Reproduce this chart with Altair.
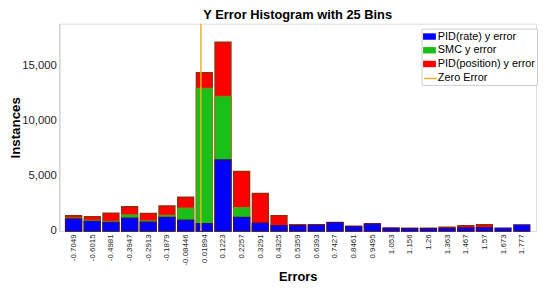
import altair as alt
import pandas as pd

centers = [-0.7049, -0.6015, -0.4981, -0.3947, -0.2913, -0.1879, -0.08446, 0.01894,
           0.1223, 0.2257, 0.3291, 0.4325, 0.5359, 0.6393, 0.7427, 0.8461, 0.9495,
           1.053, 1.156, 1.26, 1.363, 1.467, 1.57, 1.673, 1.777]
pid_rate = [1080, 870, 780, 1160, 790, 1220, 980, 650, 6430, 1220, 690, 480, 470,
            510, 750, 380, 600, 220, 200, 200, 220, 270, 300, 240, 535]
smc = [1150, 950, 850, 1450, 900, 1400, 2050, 12890, 12170, 2110, 500, 300, 0,
       0, 0, 0, 0, 0, 0, 0, 0, 0, 0, 0, 0]
pid_pos = [1370, 1280, 1610, 2200, 1580, 2260, 3050, 14310, 17080, 5390, 3390, 1370,
           560, 560, 780, 420, 650, 270, 240, 240, 330, 475, 560, 0, 0]

series_names = ["PID(rate) y error", "SMC y error", "PID(position) y error", "Zero Error"]
fill_colors = ["#0000FF", "#19C019", "#FF0000", "transparent"]
edge_colors = {"PID(rate) y error": "#2B0A8C", "SMC y error": "#5C9A10",
               "PID(position) y error": "#9A2A08"}

rows = []
for name, vals in [(series_names[2], pid_pos), (series_names[1], smc), (series_names[0], pid_rate)]:
    for c, v in zip(centers, vals):
        rows.append({"center": c, "count": v, "series": name})
df = pd.DataFrame(rows)

FONT = "Liberation Sans"
x_domain = [-0.7566, 1.8286]

x_axis = alt.Axis(values=centers, labelAngle=270, labelFontSize=8,
                  labelFont=FONT, labelColor="#262626", labelPadding=3,
                  labelExpr="replace(format(datum.value, '.4~g'), '\u2212', '-')",
                  ticks=False, domain=False, grid=False, labelOverlap=False,
                  labelBound=False, labelFlush=False,
                  title="Errors", titleFont=FONT, titleFontSize=13,
                  titleFontWeight="bold", titleColor="black", titlePadding=6)
y_axis = alt.Axis(values=[0, 5000, 10000, 15000], grid=False,
                  labelExpr="format(datum.value, ',')",
                  ticks=False, domainColor="#C8C8C8", labelFont=FONT,
                  labelFontSize=11.5, labelColor="#262626", labelPadding=3,
                  title="Instances", titleFont=FONT, titleFontSize=13.5,
                  titleFontWeight="bold", titleColor="black", titleX=-37)
x_scale = alt.Scale(domain=x_domain, nice=False, zero=False)
y_scale = alt.Scale(domain=[0, 18750], nice=False)

fill_enc = alt.Fill("series:N",
                    scale=alt.Scale(domain=series_names, range=fill_colors),
                    legend=alt.Legend(title=None, orient="none", legendX=367, legendY=5,
                                      symbolType="M-1,-0.5H1V0.5H-1Z", symbolSize=169,
                                      symbolStrokeWidth=0, labelFont=FONT, labelFontSize=11,
                                      labelColor="black", labelOffset=2, labelLimit=300,
                                      padding=1.5, rowPadding=1.9, strokeColor="#CCCCCC",
                                      fillColor="white"))

layers = []
for name in [series_names[2], series_names[1], series_names[0]]:
    layers.append(
        alt.Chart(df).transform_filter(alt.datum.series == name)
        .mark_bar(size=16, stroke=edge_colors[name], strokeWidth=1.5)
        .encode(x=alt.X("center:Q", scale=x_scale, axis=x_axis),
                y=alt.Y("count:Q", stack=None, scale=y_scale, axis=y_axis),
                fill=fill_enc)
    )

zero_df = pd.DataFrame({"x": [0.0], "name": ["Zero Error"]})
rule = alt.Chart(zero_df).mark_rule(strokeWidth=1.5).encode(
    x=alt.X("x:Q", scale=x_scale, axis=x_axis),
    stroke=alt.Stroke("name:N", scale=alt.Scale(domain=["Zero Error"], range=["#EDB120"]),
                      legend=alt.Legend(title=None, orient="none", legendX=367, legendY=46.5,
                                        symbolType="stroke", symbolSize=169,
                                        symbolStrokeWidth=1.5, labelFont=FONT,
                                        labelFontSize=11, labelOffset=0,
                                        labelExpr="''", padding=1.5, zindex=2))
)

chart = alt.layer(*layers, rule).properties(
    width=483, height=210,
    title=alt.TitleParams("Y Error Histogram with 25 Bins", font=FONT, fontSize=13,
                          fontWeight="bold", color="black", anchor="middle", offset=1.5),
    autosize=alt.AutoSizeParams(type="none"),
    padding={"left": 52, "top": 14, "right": 6, "bottom": 68},
).configure_view(strokeWidth=0).configure(background="white")

chart.save("out.html", embed_options={"renderer": "svg", "actions": False})
